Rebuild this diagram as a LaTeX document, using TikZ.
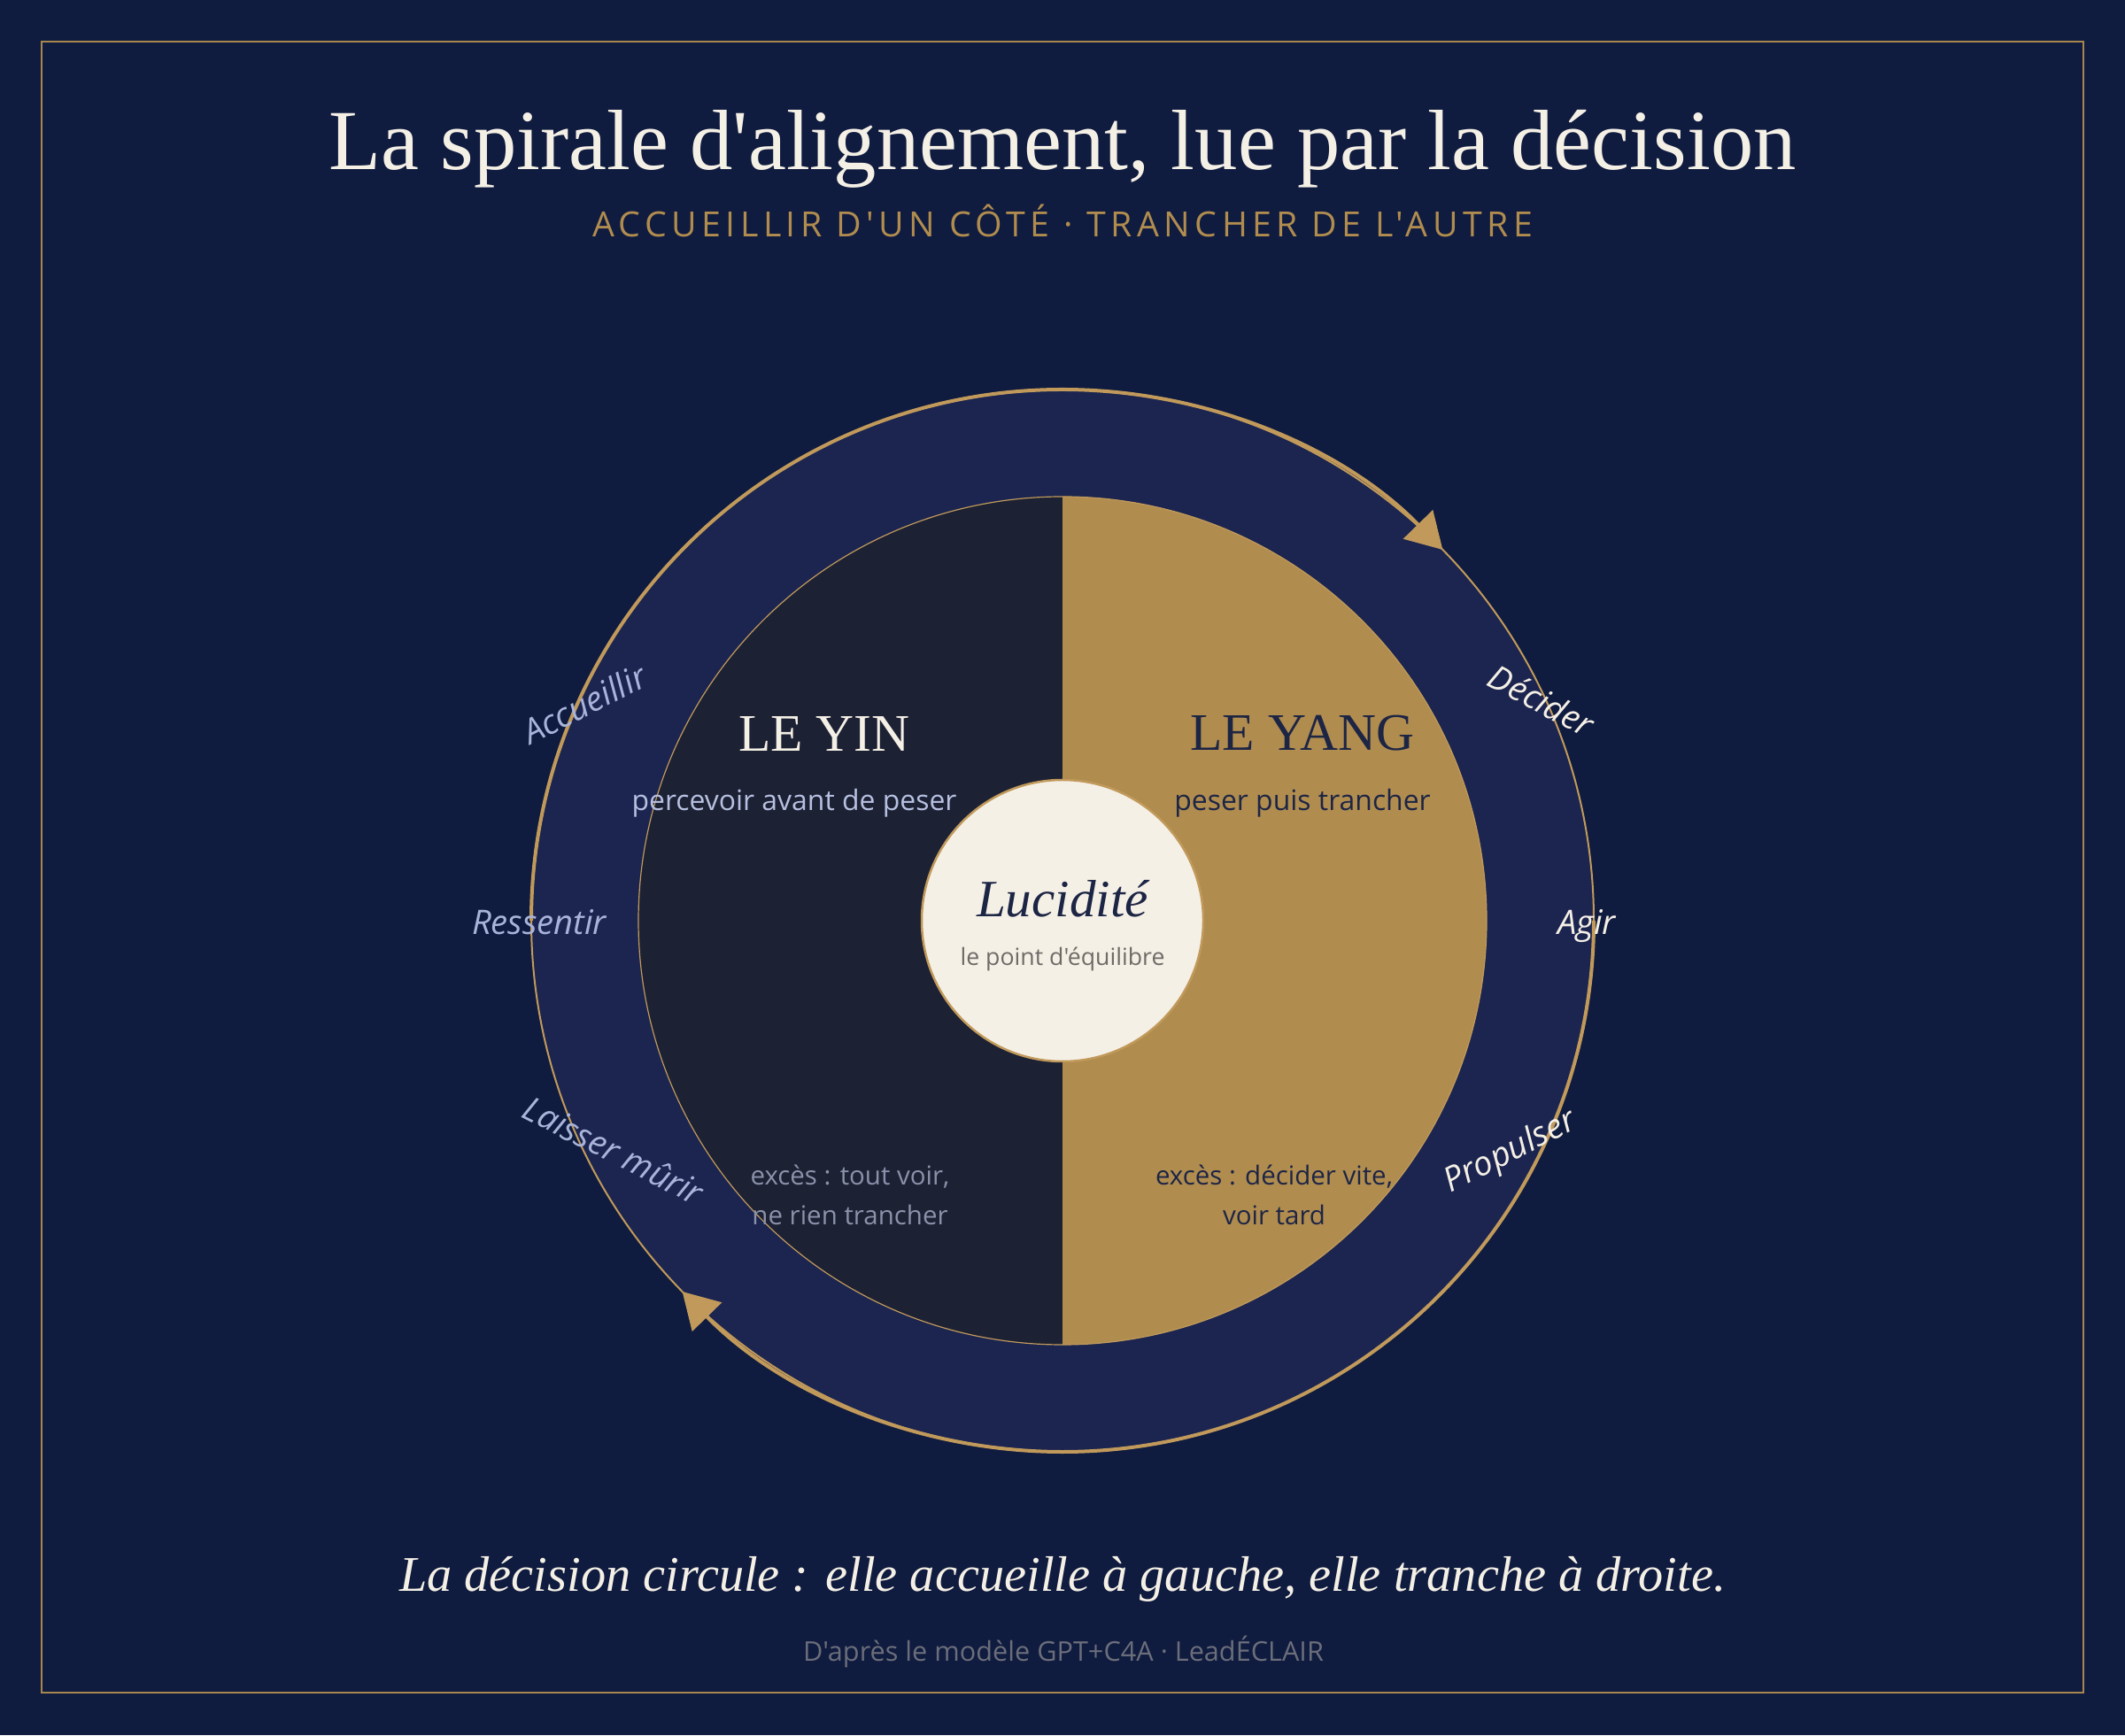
\documentclass[tikz,border=0pt]{standalone}
\usepackage{fontspec}
\setmainfont{Liberation Serif}[Ligatures=TeXOff]
\setsansfont{Open Sans}[Ligatures=TeXOff]
\newfontfamily\spaced{Open Sans}[Ligatures=TeXOff,LetterSpace=14]
\usetikzlibrary{arrows.meta}
\definecolor{bg}{HTML}{0F1B3F}
\definecolor{ring}{HTML}{1B2550}
\definecolor{yin}{HTML}{1D2134}
\definecolor{yang}{HTML}{B08C4F}
\definecolor{gold}{HTML}{C19A5B}
\definecolor{frame}{HTML}{A8874F}
\definecolor{cream}{HTML}{F5F0E6}
\definecolor{navy}{HTML}{1D2545}
\definecolor{lav}{HTML}{B6C0E0}
\definecolor{labyin}{HTML}{A9B4DA}
\definecolor{excyin}{HTML}{8A91AA}
\definecolor{pointgrey}{HTML}{6E6A66}
\definecolor{foot}{HTML}{6B6E7A}
\makeatletter
\newdimen\fitlen
\newcommand\setfit[4]{\setbox0\hbox{#2\fontsize{10pt}{12pt}\selectfont #3}\fitlen=\wd0\relax\xdef#1{\fpeval{round(10*#4*0.2845/\strip@pt\fitlen,3)}}}
\makeatother
\newcommand\fsz[1]{\fontsize{#1pt}{\fpeval{#1*1.3}pt}\selectfont}
\tikzset{
  txt/.style={inner sep=0pt, anchor=base, align=center},
  lbl/.style={inner sep=0pt, anchor=center},
  arrowarc/.style={draw=gold, line width=0.04cm, -{Triangle[length=0.4cm,width=0.46cm]}},
}
\begin{document}
\setfit\szTitle{\rmfamily}{La spirale d'alignement, lue par la décision}{1657}%
\setfit\szSub{\spaced}{ACCUEILLIR D'UN CÔTÉ · TRANCHER DE L'AUTRE}{1062}%
\setfit\szYang{\rmfamily}{LE YANG}{253}%
\setfit\szPerc{\sffamily}{percevoir avant de peser}{367}%
\setfit\szLuc{\rmfamily\itshape}{Lucidité}{194}%
\setfit\szPoint{\sffamily}{le point d'équilibre}{231}%
\setfit\szExB{\sffamily}{excès : décider vite,}{268}%
\setfit\szLab{\sffamily\itshape}{Ressentir}{152}%
\setfit\szCap{\rmfamily\itshape}{La décision circule : elle accueille à gauche, elle tranche à droite.}{1498}%
\setfit\szFoot{\sffamily}{D'après le modèle GPT+C4A · LeadÉCLAIR}{588}%
\begin{tikzpicture}
\fill[bg] (0,0) rectangle (24,19.6);
\useasboundingbox (0,0) rectangle (24,19.6);
\draw[frame, line width=0.02cm] (0.47,0.48) rectangle (23.53,19.13);
\coordinate (O) at (12,9.2);
% ring and disc
\fill[ring] (O) circle[radius=6];
\fill[yin] (O) ++(0,4.79) arc[start angle=90, end angle=270, radius=4.79] -- cycle;
\fill[yang] (O) ++(0,-4.79) arc[start angle=-90, end angle=90, radius=4.79] -- cycle;
\draw[gold, line width=0.012cm] (O) circle[radius=4.79];
\draw[gold, line width=0.02cm] (O) circle[radius=6];
\draw[arrowarc] (O) ++(180:6) arc[start angle=180, end angle=44.3, radius=6];
\draw[arrowarc] (O) ++(0:6) arc[start angle=0, end angle=-135.7, radius=6];
\node[circle, draw=gold, fill=cream, line width=0.025cm, minimum size=3.18cm, inner sep=0pt] (luc) at (O) {};
% title
\node[txt, text=cream] (title) at (12,17.68) {\rmfamily\fsz{\szTitle}La spirale d'alignement, lue par la décision};
\node[txt, text=yang] (sub) at (12,16.92) {\spaced\fsz{\szSub}ACCUEILLIR D'UN CÔTÉ · TRANCHER DE L'AUTRE};
% halves
\node[txt, text=cream] (yinT) at (9.31,11.11) {\rmfamily\fsz{\szYang}LE YIN};
\node[txt, text=lav] (yinS) at (8.97,10.44) {\sffamily\fsz{\szPerc}percevoir avant de peser};
\node[txt, text=navy] (yangT) at (14.71,11.12) {\rmfamily\fsz{\szYang}LE YANG};
\node[txt, text=navy] (yangS) at (14.71,10.44) {\sffamily\fsz{\szPerc}peser puis trancher};
\node[txt, text=navy] (lucT) at (12,9.24) {\rmfamily\itshape\fsz{\szLuc}Lucidité};
\node[txt, text=pointgrey] (lucS) at (12,8.69) {\sffamily\fsz{\szPoint}le point d'équilibre};
\node[txt, text=excyin] (exA1) at (9.60,6.21) {\sffamily\fsz{\szExB}excès : tout voir,};
\node[txt, text=excyin] (exA2) at (9.60,5.77) {\sffamily\fsz{\szExB}ne rien trancher};
\node[txt, text=navy] (exB1) at (14.39,6.21) {\sffamily\fsz{\szExB}excès : décider vite,};
\node[txt, text=navy] (exB2) at (14.39,5.77) {\sffamily\fsz{\szExB}voir tard};
% ring labels
\node[lbl, text=labyin, rotate=27] (acc) at (6.60,11.65) {\sffamily\itshape\fsz{\szLab}Accueillir};
\node[txt, text=labyin] (res) at (6.09,9.04) {\sffamily\itshape\fsz{\szLab}Ressentir};
\node[lbl, text=labyin, rotate=-27] (lai) at (6.93,6.61) {\sffamily\itshape\fsz{\szLab}Laisser mûrir};
\node[lbl, text=cream, rotate=-28] (dec) at (17.41,11.69) {\sffamily\itshape\fsz{\szLab}Décider};
\node[txt, text=cream] (agi) at (17.92,9.04) {\sffamily\itshape\fsz{\szLab}Agir};
\node[lbl, text=cream, rotate=27] (pro) at (17.06,6.58) {\sffamily\itshape\fsz{\szLab}Propulser};
% caption and footer
\node[txt, text=cream] (cap) at (12,1.63) {\rmfamily\itshape\fsz{\szCap}La décision circule : elle accueille à gauche, elle tranche à droite.};
\node[txt, text=foot] (foot) at (12.01,0.84) {\sffamily\fsz{\szFoot}D'après le modèle GPT+C4A · LeadÉCLAIR};
\end{tikzpicture}
\end{document}
